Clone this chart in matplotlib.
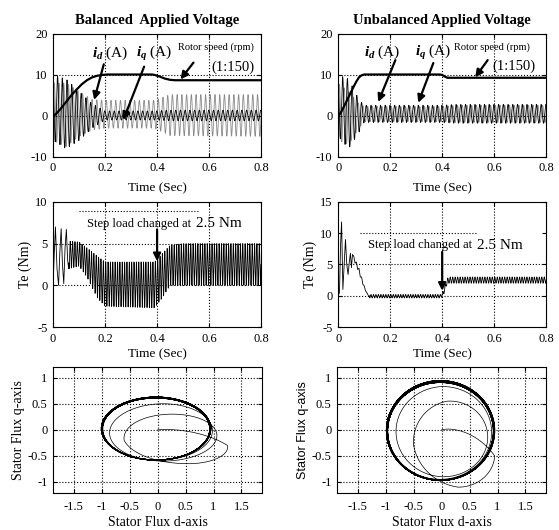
import numpy as np
import matplotlib.pyplot as plt

plt.rcParams['font.family'] = 'Liberation Serif'
plt.rcParams['axes.unicode_minus'] = False
plt.rcParams['mathtext.fontset'] = 'custom'
plt.rcParams['mathtext.rm'] = 'Liberation Serif'
plt.rcParams['mathtext.it'] = 'Liberation Serif:italic'
plt.rcParams['mathtext.bf'] = 'Liberation Serif:bold'
plt.rcParams['mathtext.bfit'] = 'Liberation Serif:italic:bold'

# ---------------- data ----------------
# rotor speed (scaled 1:150), balanced / unbalanced
spd_l_t = [0, 0.01, 0.03, 0.05, 0.07, 0.09, 0.11, 0.13, 0.15, 0.17, 0.19, 0.21, 0.38, 0.39, 0.41, 0.43, 0.45, 0.47, 0.8]
spd_l_v = [0, 0.4, 1.8, 3.4, 5.0, 6.4, 7.7, 8.7, 9.4, 9.8, 10.0, 10.1, 10.1, 10.0, 9.6, 9.1, 8.8, 8.7, 8.7]
spd_r_t = [0, 0.01, 0.02, 0.03, 0.04, 0.05, 0.06, 0.07, 0.08, 0.09, 0.1, 0.39, 0.4, 0.41, 0.42, 0.8]
spd_r_v = [0, 0.8, 2.0, 3.3, 4.6, 5.9, 7.2, 8.4, 9.4, 9.9, 10.1, 10.1, 10.0, 9.6, 9.3, 9.3]

# current envelopes (upper / lower) at knot times
cur_l_t = [0, 0.05, 0.1, 0.15, 0.2, 0.39, 0.45, 0.8]
id_l_up = [10, 9, 6, 3, 1.2, 1.2, 1.4, 1.4]
id_l_lo = [-6, -8, -6, -3, -1.0, -1.0, -1.2, -1.2]
iq_l_up = [8, 8, 6, 4, 3.8, 3.8, 5.2, 5.2]
iq_l_lo = [-6, -7.5, -5, -3.5, -3.0, -3.0, -4.8, -5.0]

cur_r_t = [0, 0.04, 0.08, 0.1, 0.4, 0.45, 0.8]
id_r_up = [10, 9, 4, 2.6, 2.6, 2.8, 2.8]
id_r_lo = [-5, -8, -4, -1.6, -1.6, -1.8, -1.8]
iq_r_up = [8, 6, 3, 2.3, 2.3, 2.6, 2.6]
iq_r_lo = [-6, -7, -3, -1.4, -1.4, -1.6, -1.6]

# electromagnetic torque
te_l_sp_t = [0, 0.004, 0.009, 0.015, 0.021, 0.026, 0.031, 0.036, 0.041, 0.046, 0.051, 0.056, 0.06]
te_l_sp_v = [0, 3.5, 7.0, 2.0, 0.0, 4.0, 6.8, 2.5, 0.2, 4.5, 6.7, 3.0, 2.0]
te_l_t = [0.06, 0.1, 0.13, 0.17, 0.2, 0.39, 0.42, 0.45, 0.5, 0.8]
te_l_up = [5.3, 5.2, 4.5, 3.5, 2.8, 2.8, 3.8, 4.8, 5.0, 5.0]
te_l_lo = [2.0, 2.3, 1.0, -1.5, -2.5, -2.7, -1.5, 0.0, 0.0, 0.0]

te_r_sp_t = [0, 0.005, 0.009, 0.013, 0.018, 0.023, 0.028, 0.033, 0.038, 0.043, 0.047, 0.051, 0.055, 0.06,
             0.065, 0.07, 0.075, 0.08, 0.085, 0.09, 0.095, 0.1, 0.105, 0.11, 0.115, 0.12]
te_r_sp_v = [0, 0.5, 8.0, 11.8, 1.0, 5.0, 9.0, 5.0, 3.4, 5.5, 6.8, 4.5, 6.6, 6.3,
             5.2, 5.4, 4.2, 4.4, 3.0, 3.0, 1.8, 1.6, 0.8, 0.5, 0.1, 0.0]
te_r_t = [0.12, 0.395, 0.405, 0.42, 0.43, 0.8]
te_r_up = [0.2, 0.2, 0.9, 2.8, 3.0, 3.0]
te_r_lo = [-0.35, -0.35, 0.1, 2.0, 2.0, 2.0]

# stator flux loops: centre and radii at turn knots (clockwise)
fl_k = [0, 0.25, 0.5, 0.75, 1.0, 1.5, 2.0, 2.5, 3.0, 4.0]
fl_l_cx = [0.0, 0.55, 0.55, 0.25, 0.2, 0.1, 0.05, 0.0, -0.03, -0.03]
fl_l_cy = [0.0, -0.3, -0.25, -0.2, -0.15, -0.1, -0.05, 0.0, 0.02, 0.02]
fl_l_rx = [0.0, 0.7, 0.8, 0.85, 0.9, 0.92, 0.95, 0.96, 0.97, 0.97]
fl_l_ry = [0.0, 0.35, 0.4, 0.45, 0.45, 0.5, 0.55, 0.58, 0.6, 0.6]
fl_r_cx = [0.0, 0.35, 0.3, 0.15, 0.1, 0.05, 0.0, -0.02, -0.02, -0.02]
fl_r_cy = [0.0, -0.5, -0.5, -0.3, -0.15, -0.1, -0.05, -0.02, -0.02, -0.02]
fl_r_rx = [0.0, 0.6, 0.6, 0.65, 0.7, 0.8, 0.88, 0.93, 0.96, 0.96]
fl_r_ry = [0.0, 0.6, 0.6, 0.65, 0.7, 0.8, 0.88, 0.93, 0.95, 0.95]
band_l = [1.0, 0.985, 1.015, 0.99, 1.01, 0.98, 1.02, 0.995]
band_r = [1.0, 0.98, 1.02, 0.99, 1.015, 0.975, 1.01, 0.985]
n_turns = 26

t = np.linspace(0, 0.8, 6001)


def osc(tt, kt, up, lo, f, ph=0.0):
    u = np.interp(tt, kt, up)
    l = np.interp(tt, kt, lo)
    return (u + l) / 2 + (u - l) / 2 * np.sin(2 * np.pi * f * tt + ph)


def flux(cx, cy, rx, ry, band):
    k = np.linspace(0, n_turns, n_turns * 240)
    th = np.pi / 2 - 2 * np.pi * k
    s = np.interp(k, np.arange(n_turns + 1), np.resize(band, n_turns + 1))
    s = np.where(k > 3, s, 1.0)
    x = np.interp(k, fl_k, cx) + s * np.interp(k, fl_k, rx) * np.cos(th)
    y = np.interp(k, fl_k, cy) + s * np.interp(k, fl_k, ry) * np.sin(th)
    return x, y


def style(ax):
    ax.tick_params(direction='in', top=True, right=True, length=3, labelsize=9, pad=4)
    for sp in ax.spines.values():
        sp.set_linewidth(0.8)


gkw = dict(color='k', linestyle=':', linewidth=0.8, zorder=0)
akw = dict(arrowstyle='-|>', color='k', lw=1.6, mutation_scale=11, shrinkA=0, shrinkB=0)
ticks_t = [0, 0.2, 0.4, 0.6, 0.8]
ticks_t_lbl = ['0', '0.2', '0.4', '0.6', '0.8']

fig = plt.figure(figsize=(5.59, 5.30), dpi=100)

# ---------------- top row: currents and speed ----------------
for col, (left, spt, spv, ct, du, dl, qu, ql, title) in enumerate([
        (0.095, spd_l_t, spd_l_v, cur_l_t, id_l_up, id_l_lo, iq_l_up, iq_l_lo, 'Balanced  Applied Voltage'),
        (0.605, spd_r_t, spd_r_v, cur_r_t, id_r_up, id_r_lo, iq_r_up, iq_r_lo, 'Unbalanced Applied Voltage')]):
    ax = fig.add_axes([left, 0.704, 0.372, 0.232])
    style(ax)
    ax.plot(t, osc(t, ct, qu, ql, 55, 0.0), color='#8a8a8a', lw=0.6)
    ax.plot(t, osc(t, ct, du, dl, 55, 1.9), color='k', lw=0.6)
    ax.plot(spt, spv, color='k', lw=1.6)
    ax.set_xlim(0, 0.8)
    ax.set_ylim(-10, 20)
    ax.set_xticks(ticks_t)
    ax.set_xticklabels(ticks_t_lbl)
    ax.set_yticks([-10, 0, 10, 20])
    for xv in [0.2, 0.4, 0.6]:
        ax.axvline(xv, **gkw)
    ax.axhline(10, **gkw)
    ax.axhline(0, **gkw)
    ax.set_xlabel('Time (Sec)', fontsize=9.5, labelpad=6)
    ax.set_title(title, fontsize=10.5, fontweight='bold', pad=7)
    if col == 0:
        ax.text(0.22, 15.2, r'$\mathbfit{i}_{\mathbfit{d}}$ (A)', fontsize=11, ha='center', va='center')
        ax.text(0.39, 15.2, r'$\mathbfit{i}_{\mathbfit{q}}$ (A)', fontsize=11, ha='center', va='center')
        ax.annotate('', xy=(0.158, 3.9), xytext=(0.195, 12.6), arrowprops=akw)
        ax.annotate('', xy=(0.27, -1.0), xytext=(0.35, 12.0), arrowprops=akw)
        ax.text(0.625, 16.8, 'Rotor speed (rpm)', fontsize=7.5, ha='center', va='center')
        ax.text(0.69, 11.9, '(1:150)', fontsize=10.5, ha='center', va='center')
        ax.annotate('', xy=(0.49, 8.9), xytext=(0.54, 13.0), arrowprops=akw)
    else:
        ax.text(0.17, 15.4, r'$\mathbfit{i}_{\mathbfit{d}}$ (A)', fontsize=11, ha='center', va='center')
        ax.text(0.365, 15.4, r'$\mathbfit{i}_{\mathbfit{q}}$ (A)', fontsize=11, ha='center', va='center')
        ax.annotate('', xy=(0.154, 3.4), xytext=(0.22, 13.6), arrowprops=akw)
        ax.annotate('', xy=(0.308, 3.2), xytext=(0.366, 12.9), arrowprops=akw)
        ax.text(0.59, 16.8, 'Rotor speed (rpm)', fontsize=7.5, ha='center', va='center')
        ax.text(0.675, 12.1, '(1:150)', fontsize=10.5, ha='center', va='center')
        ax.annotate('', xy=(0.527, 9.4), xytext=(0.575, 13.6), arrowprops=akw)

# ---------------- middle row: torque ----------------
ax = fig.add_axes([0.095, 0.383, 0.372, 0.236])
style(ax)
ax.plot(np.concatenate([te_l_sp_t, t[t > 0.06]]),
        np.concatenate([te_l_sp_v, osc(t[t > 0.06], te_l_t, te_l_up, te_l_lo, 110)]), color='k', lw=0.6)
ax.set_xlim(0, 0.8)
ax.set_ylim(-5, 10)
ax.set_xticks(ticks_t)
ax.set_xticklabels(ticks_t_lbl)
ax.set_yticks([-5, 0, 5, 10])
for xv in [0.2, 0.4, 0.6]:
    ax.axvline(xv, **gkw)
ax.axhline(0, **gkw)
ax.axhline(5, **gkw)
ax.hlines(8.9, 0.1, 0.56, **gkw)
ax.text(0.13, 7.4, 'Step load changed at', fontsize=9, va='center')
ax.text(0.55, 7.4, '2.5 Nm', fontsize=11, va='center')
ax.annotate('', xy=(0.4, 2.9), xytext=(0.4, 6.7), arrowprops=akw)
ax.set_xlabel('Time (Sec)', fontsize=9.5, labelpad=3)
ax.set_ylabel('Te (Nm)', fontsize=10, labelpad=2)

ax = fig.add_axes([0.605, 0.383, 0.372, 0.236])
style(ax)
ax.plot(np.concatenate([te_r_sp_t, t[t > 0.12]]),
        np.concatenate([te_r_sp_v, osc(t[t > 0.12], te_r_t, te_r_up, te_r_lo, 105)]), color='k', lw=0.6)
ax.set_xlim(0, 0.8)
ax.set_ylim(-5, 15)
ax.set_xticks(ticks_t)
ax.set_xticklabels(ticks_t_lbl)
ax.set_yticks([-5, 0, 5, 10, 15])
for xv in [0.2, 0.4, 0.6]:
    ax.axvline(xv, **gkw)
ax.axhline(0, **gkw)
ax.axhline(5, **gkw)
ax.hlines(10, 0.085, 0.535, **gkw)
ax.text(0.115, 8.1, 'Step load changed at', fontsize=9, va='center')
ax.text(0.535, 8.1, '2.5 Nm', fontsize=11, va='center')
ax.annotate('', xy=(0.4, 0.8), xytext=(0.4, 7.0), arrowprops=akw)
ax.set_xlabel('Time (Sec)', fontsize=9.5, labelpad=3)
ax.set_ylabel('Te (Nm)', fontsize=10, labelpad=2)

# ---------------- bottom row: stator flux ----------------
for left, (cx, cy, rx, ry, bd), yfont in [
        (0.095, (fl_l_cx, fl_l_cy, fl_l_rx, fl_l_ry, band_l), 'Liberation Serif'),
        (0.603, (fl_r_cx, fl_r_cy, fl_r_rx, fl_r_ry, band_r), 'Liberation Sans')]:
    ax = fig.add_axes([left, 0.07, 0.374, 0.238])
    style(ax)
    fx, fy = flux(cx, cy, rx, ry, bd)
    ax.plot(fx, fy, color='k', lw=0.5)
    ax.set_xlim(-1.87, 1.87)
    ax.set_ylim(-1.21, 1.21)
    ax.set_xticks([-1.5, -1, -0.5, 0, 0.5, 1, 1.5])
    ax.set_xticklabels(['-1.5', '-1', '-0.5', '0', '0.5', '1', '1.5'])
    ax.set_yticks([-1, -0.5, 0, 0.5, 1])
    ax.set_yticklabels(['-1', '-0.5', '0', '0.5', '1'])
    ax.grid(True, color='k', linestyle=':', linewidth=0.8)
    ax.set_axisbelow(True)
    ax.tick_params(axis='x', pad=6)
    ax.set_xlabel('Stator Flux d-axis', fontsize=10, labelpad=2)
    ax.set_ylabel('Stator Flux q-axis', fontsize=10 if yfont == 'Liberation Serif' else 9,
                  family=yfont, labelpad=2)

fig.savefig('out.png', dpi=100)
